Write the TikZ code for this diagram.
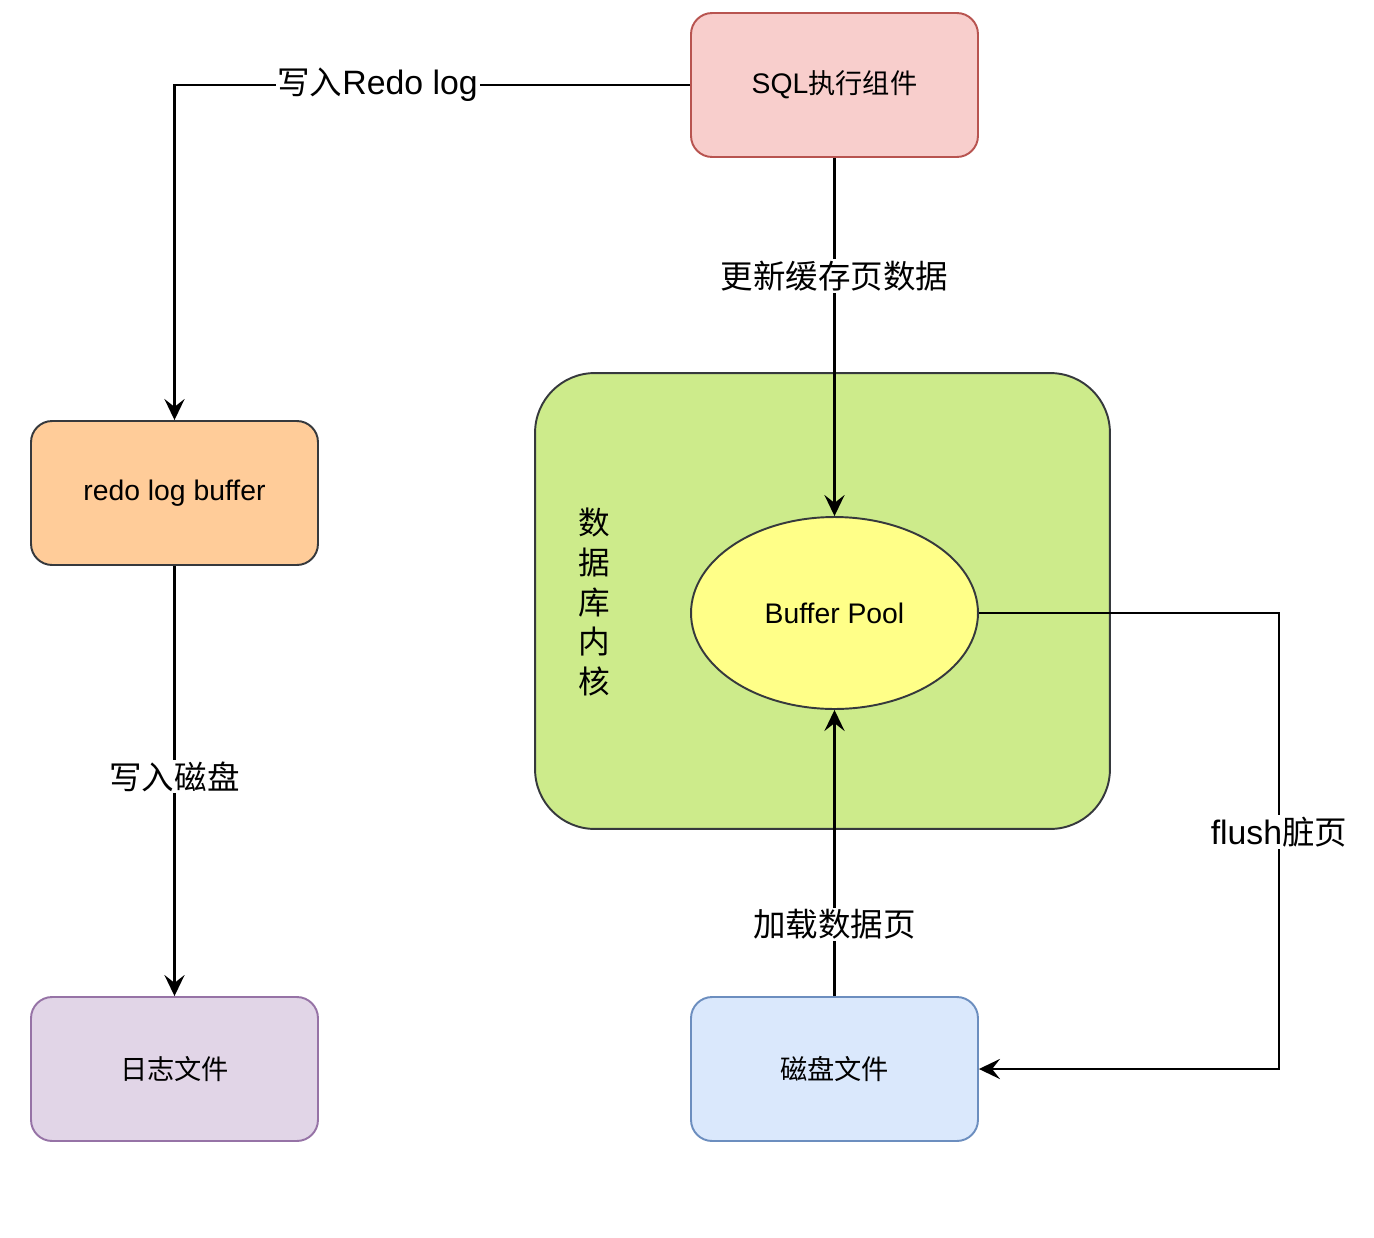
\documentclass[tikz,border=0pt]{standalone}
\usepackage{fontspec}
\setmainfont{Noto Sans CJK SC}
\newfontfamily\lat[Scale=1.04]{Liberation Sans}
\usetikzlibrary{arrows.meta,shapes.geometric}
\definecolor{sqlfill}{HTML}{F8CECC}
\definecolor{sqldraw}{HTML}{B85450}
\definecolor{buffill}{HTML}{FFCC99}
\definecolor{logfill}{HTML}{E1D5E7}
\definecolor{logdraw}{HTML}{9673A6}
\definecolor{diskfill}{HTML}{DAE8FC}
\definecolor{diskdraw}{HTML}{6C8EBF}
\definecolor{corefill}{HTML}{CDEB8B}
\definecolor{poolfill}{HTML}{FFFF88}
\definecolor{darkline}{HTML}{36393D}

\begin{document}
\begin{tikzpicture}[
  x=0.02cm, y=-0.02cm, >={Stealth[length=12pt,width=11.5pt,inset=4.5pt]},
  B/.style={draw=darkline, line width=1.1pt, rounded corners=12pt, align=center,
            minimum width=5.74cm, minimum height=2.88cm, font=\fontsize{15.5}{18}\selectfont},
  E/.style={line width=1.2pt, ->},
  lbl/.style={fill=white, inner sep=1pt, font=\fontsize{18.5}{22}\selectfont}]
\useasboundingbox (0,0) rectangle (1374,1238);
\node[draw=darkline, line width=1.1pt, fill=corefill, rounded corners=34pt,
      minimum width=11.5cm, minimum height=9.12cm] (core) at (822.5,601) {};
\node[align=center, font=\fontsize{18}{22.7}\selectfont] (coretxt) at (594,602) {数\\据\\库\\内\\核};
\node[B, fill=sqlfill, draw=sqldraw] (sql) at (834.5,85) {{\lat SQL}执行组件};
\node[B, fill=buffill] (buf) at (174.5,493) {\lat redo log buffer};
\node[B, fill=logfill, draw=logdraw] (log) at (174.5,1069) {日志文件};
\node[B, fill=diskfill, draw=diskdraw] (disk) at (834.5,1069) {磁盘文件};
\node[ellipse, draw=darkline, line width=1.1pt, fill=poolfill, minimum width=5.74cm,
      minimum height=3.84cm, inner sep=0pt, font=\fontsize{15.5}{18}\selectfont] (pool) at (834.5,613) {\lat Buffer Pool};
\coordinate (fl) at (1279,613);
\draw[E] (sql.west) -| node[lbl, pos=0.303] {写入{\lat Redo log}} (buf.north);
\draw[E] (sql.south) -- node[lbl, pos=0.33] {更新缓存页数据} (pool.north);
\draw[E] (buf.south) -- node[lbl, pos=0.49] {写入磁盘} (log.north);
\draw[E] (disk.north) -- node[lbl, pos=0.25] {加载数据页} (pool.south);
\draw[E] (pool.east) -- (fl) |- node[lbl, pos=0.24] {{\lat flush}脏页} (disk.east);
\end{tikzpicture}
\end{document}
